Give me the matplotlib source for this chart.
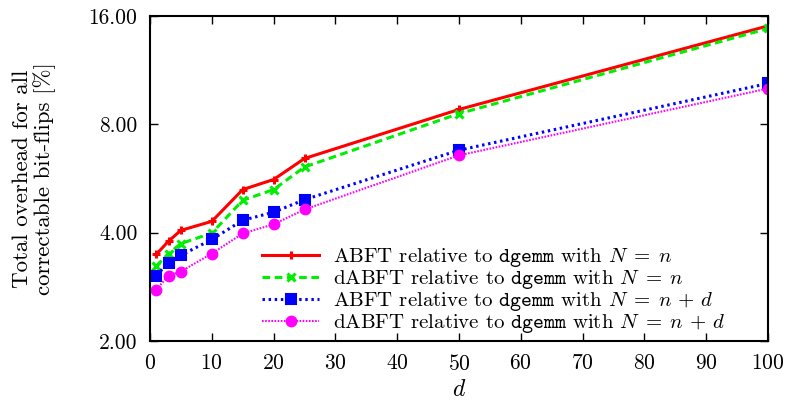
import numpy as np
import matplotlib
matplotlib.use("Agg")
import matplotlib.pyplot as plt
from matplotlib.ticker import FixedLocator, FormatStrFormatter

plt.rcParams['font.family'] = ['cmr10', 'DejaVu Serif']
plt.rcParams['mathtext.fontset'] = 'cm'
plt.rcParams['axes.formatter.use_mathtext'] = True

# donnees
d = [1, 3, 5, 10, 15, 20, 25, 50, 100]
abft_n = [3.48, 3.79, 4.06, 4.30, 5.27, 5.62, 6.43, 8.80, 15.02]
dabft_n = [3.23, 3.50, 3.73, 3.99, 4.92, 5.27, 6.09, 8.57, 14.77]
abft_nd = [3.04, 3.30, 3.46, 3.83, 4.33, 4.56, 4.94, 6.78, 10.39]
dabft_nd = [2.78, 3.04, 3.12, 3.50, 3.98, 4.22, 4.64, 6.56, 10.06]

labels = [
    r'ABFT relative to $\mathtt{dgemm}$ with $N\;=\;n$',
    r'dABFT relative to $\mathtt{dgemm}$ with $N\;=\;n$',
    r'ABFT relative to $\mathtt{dgemm}$ with $N\;=\;n\,+\,d$',
    r'dABFT relative to $\mathtt{dgemm}$ with $N\;=\;n\,+\,d$',
]
y_ticks = [2, 4, 8, 16]
x_ticks = list(range(0, 101, 10))

fig = plt.figure(figsize=(7.9, 4.08), dpi=100)
ax = fig.add_axes([0.1899, 0.1642, 0.7823, 0.7966])

ax.plot(d, abft_n, color='#ff0000', lw=2.2, ls='-', marker='+', ms=6, mew=2.2, label=labels[0])
ax.plot(d, dabft_n, color='#00ee00', lw=2.2, ls=(0, (2.5, 1.5)), marker='x', ms=5.5, mew=2.2, label=labels[1])
ax.plot(d, abft_nd, color='#0000ff', lw=2.2, ls=(0, (0.8, 1.2)), marker='s', ms=6.5, mew=1.5,
        mfc='#0000ff', label=labels[2])
ax.plot(d, dabft_nd, color='#ff00ff', lw=1.5, ls=(0, (0.8, 0.7)), marker='o', ms=7, mew=1.5,
        mfc='#ff00ff', label=labels[3])

ax.set_yscale('log', base=2)
ax.set_ylim(2, 16)
ax.set_xlim(0, 100)
ax.yaxis.set_major_locator(FixedLocator(y_ticks))
ax.yaxis.set_major_formatter(FormatStrFormatter('%.2f'))
ax.yaxis.set_minor_locator(FixedLocator([]))
ax.set_xticks(x_ticks)

ax.tick_params(direction='in', top=True, right=True, length=6, width=1, labelsize=15.5, pad=9)
for s in ax.spines.values():
    s.set_linewidth(1.5)

ax.set_xlabel('$d$', fontsize=17, labelpad=4)
ax.set_ylabel('Total overhead for all\ncorrectable bit-flips [%]', fontsize=16.5, linespacing=1.05)
ax.yaxis.set_label_coords(-0.152, 0.5)

ax.legend(loc='upper left', bbox_to_anchor=(262 / 790, 1 - 246 / 408), bbox_transform=fig.transFigure,
          frameon=False, fontsize=15, handlelength=2.75, handletextpad=0.65,
          labelspacing=-0.05, borderaxespad=0, borderpad=0)

fig.savefig('out.png', dpi=100)
